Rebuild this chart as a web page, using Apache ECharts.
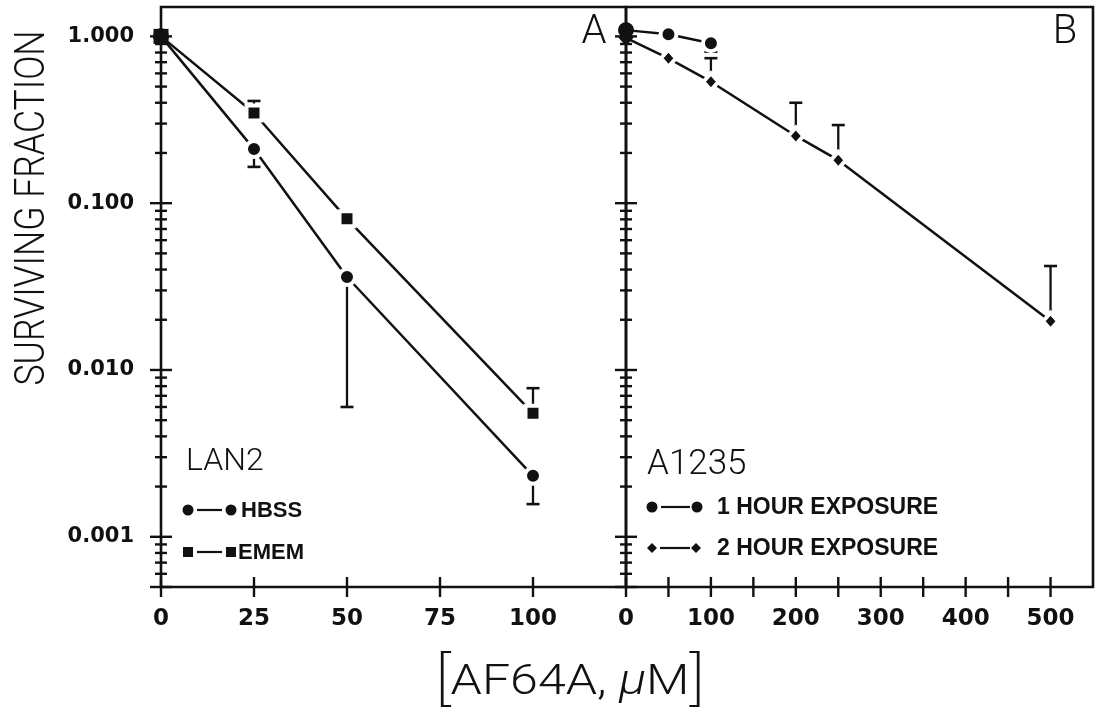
<!DOCTYPE html>
<html>
<head>
<meta charset="utf-8">
<script src="https://cdn.jsdelivr.net/npm/echarts@6/dist/echarts.min.js"></script>
<style>
html,body{margin:0;padding:0;background:#fff;}
#chart{width:1097px;height:711px;}
</style>
</head>
<body>
<div id="chart"></div>
<script>
// ---------- data ----------
const yMin = 0.0005, yMax = 1.5;
const yMajorTicks = [0.0005, 0.001, 0.01, 0.1, 1];
const yMinorTicks = [0.0006, 0.0007, 0.0008, 0.0009,
  0.002, 0.003, 0.004, 0.005, 0.006, 0.007, 0.008, 0.009,
  0.02, 0.03, 0.04, 0.05, 0.06, 0.07, 0.08, 0.09,
  0.2, 0.3, 0.4, 0.5, 0.6, 0.7, 0.8, 0.9];
const xTicksA = [0, 25, 50, 75, 100];
const xTicksB = [0, 50, 100, 150, 200, 250, 300, 350, 400, 450, 500];

// Panel A : LAN2
const doseA = [0, 25, 50, 100];
const hbss = [1.0, 0.211, 0.0361, 0.00232];
const hbssErr = [null, 0.165, 0.0060, 0.00157];
const emem = [1.0, 0.347, 0.0806, 0.0055];
const ememErr = [null, 0.41, null, 0.00778];

// Panel B : A1235
const doseB1 = [0, 50, 100];
const hour1 = [1.09, 1.03, 0.91];
const hour1Err = [null, null, 0.81];
const doseB2 = [0, 50, 100, 200, 250, 500];
const hour2 = [0.98, 0.739, 0.535, 0.253, 0.181, 0.0196];
const hour2Err = [null, null, 0.74, 0.40, 0.294, 0.042];

// ---------- helpers ----------
const INK = '#111';
function pts(xs, ys) {
  return xs.map((x, i) => ({
    value: [x, ys[i]],
    itemStyle: x === 0 ? { borderWidth: 0 } : undefined
  }));
}
function errs(xs, ys, es) {
  const out = [];
  xs.forEach((x, i) => { if (es[i] != null) out.push([x, ys[i], es[i]]); });
  return out;
}
function tickData(xTicks) {
  return [].concat(
    xTicks.map(x => [x, yMin, 0]),
    yMajorTicks.map(y => [0, y, 1]),
    yMinorTicks.map(y => [0, y, 2])
  );
}
function renderTick(params, api) {
  const kind = api.value(2);
  const p = api.coord([api.value(0), api.value(1)]);
  let shape;
  if (kind === 0) shape = { x1: p[0], y1: p[1] - 10, x2: p[0], y2: p[1] + 10 };
  else {
    const L = kind === 1 ? 11 : 6;
    shape = { x1: p[0] - L, y1: p[1], x2: p[0] + L, y2: p[1] };
  }
  return { type: 'line', shape: shape, style: { stroke: INK, lineWidth: 2.4 } };
}
function renderErr(params, api) {
  const p = api.coord([api.value(0), api.value(1)]);
  const e = api.coord([api.value(0), api.value(2)]);
  return {
    type: 'group',
    children: [
      { type: 'line', shape: { x1: p[0], y1: p[1], x2: e[0], y2: e[1] }, style: { stroke: INK, lineWidth: 2.3 } },
      { type: 'line', shape: { x1: e[0] - 6.5, y1: e[1], x2: e[0] + 6.5, y2: e[1] }, style: { stroke: INK, lineWidth: 2.6 } }
    ]
  };
}
function textWidth(text, font) {
  const c = document.createElement('canvas').getContext('2d');
  c.font = font;
  return c.measureText(text).width;
}

const tickFont = 'DejaVu Sans';
const lightFont = 'Roboto';

function lineSeries(name, xi, xs, ys, symbol, size) {
  return {
    name: name, type: 'line', xAxisIndex: xi, yAxisIndex: xi,
    data: pts(xs, ys), symbol: symbol, symbolSize: size, clip: false,
    lineStyle: { color: INK, width: 2.5 },
    itemStyle: { color: INK, borderColor: '#fff', borderWidth: 4 },
    z: 5, silent: true
  };
}

const yTitleFont = '300 43px Roboto';
const yTitleScale = 355 / textWidth('SURVIVING FRACTION', yTitleFont);

// x title parts
const xtA = '300 42px Roboto', xtM = 'italic 300 42px Roboto', xtB = '200 58px Roboto';
const xTitleW = textWidth('[', xtB) * 2 + textWidth('AF64A, ', xtA) + textWidth('μ', xtM) + textWidth('M', xtA);
const xTitleScale = 270 / xTitleW;

const option = {
  animation: false,
  backgroundColor: '#fff',
  grid: [
    { left: 161, top: 7, width: 465, height: 580, show: true, borderColor: INK, borderWidth: 2.6, backgroundColor: 'transparent' },
    { left: 626, top: 7, width: 467, height: 580, show: true, borderColor: INK, borderWidth: 2.6, backgroundColor: 'transparent' }
  ],
  xAxis: [
    { type: 'value', gridIndex: 0, min: 0, max: 125, interval: 25,
      axisLine: { show: false }, axisTick: { show: false }, splitLine: { show: false },
      axisLabel: { margin: 21, fontFamily: tickFont, fontWeight: 'bold', fontSize: 23, color: INK,
        formatter: v => (xTicksA.indexOf(v) >= 0 ? String(v) : '') } },
    { type: 'value', gridIndex: 1, min: 0, max: 550, interval: 100,
      axisLine: { show: false }, axisTick: { show: false }, splitLine: { show: false },
      axisLabel: { margin: 21, fontFamily: tickFont, fontWeight: 'bold', fontSize: 23, color: INK,
        formatter: v => (v % 100 === 0 && v <= 500 ? String(v) : '') } }
  ],
  yAxis: [
    { type: 'log', gridIndex: 0, min: yMin, max: yMax, logBase: 10,
      axisLine: { show: false }, axisTick: { show: false }, splitLine: { show: false },
      axisLabel: { margin: 27, fontFamily: tickFont, fontWeight: 'bold', fontSize: 21, color: INK,
        formatter: v => { const l = Math.log10(v); return Math.abs(l - Math.round(l)) < 1e-6 ? v.toFixed(3) : ''; } } },
    { type: 'log', gridIndex: 1, min: yMin, max: yMax, logBase: 10,
      axisLine: { show: false }, axisTick: { show: false }, splitLine: { show: false },
      axisLabel: { show: false } }
  ],
  series: [
    { type: 'custom', xAxisIndex: 0, yAxisIndex: 0, data: tickData(xTicksA), renderItem: renderTick, encode: { x: 0, y: 1 }, z: 2, silent: true, clip: false },
    { type: 'custom', xAxisIndex: 1, yAxisIndex: 1, data: tickData(xTicksB), renderItem: renderTick, encode: { x: 0, y: 1 }, z: 2, silent: true, clip: false },
    { type: 'custom', xAxisIndex: 0, yAxisIndex: 0, data: errs(doseA, hbss, hbssErr).concat(errs(doseA, emem, ememErr)), renderItem: renderErr, encode: { x: 0, y: 1 }, z: 3, silent: true, clip: false },
    { type: 'custom', xAxisIndex: 1, yAxisIndex: 1, data: errs(doseB1, hour1, hour1Err).concat(errs(doseB2, hour2, hour2Err)), renderItem: renderErr, encode: { x: 0, y: 1 }, z: 3, silent: true, clip: false },
    lineSeries('HBSS', 0, doseA, hbss, 'circle', 16),
    lineSeries('EMEM', 0, doseA, emem, 'rect', 15),
    lineSeries('1 HOUR EXPOSURE', 1, doseB1, hour1, 'circle', 16),
    lineSeries('2 HOUR EXPOSURE', 1, doseB2, hour2, 'diamond', [15, 17])
  ],
  graphic: [
    { type: 'text', x: 33, y: 208, rotation: Math.PI / 2, scaleX: yTitleScale,
      style: { text: 'SURVIVING FRACTION', font: yTitleFont, fill: INK, align: 'center', verticalAlign: 'middle', textAlign: 'center', textVerticalAlign: 'middle' } },
    { type: 'text', x: 570, y: 683, scaleX: xTitleScale,
      style: { text: '{b|[}{a|AF64A, }{m|μ}{a|M}{b|]}', fill: INK, align: 'center', verticalAlign: 'middle', textAlign: 'center', textVerticalAlign: 'middle',
        rich: {
          a: { fontFamily: lightFont, fontWeight: 300, fontSize: 42, fill: INK, color: INK },
          m: { fontFamily: lightFont, fontWeight: 300, fontStyle: 'italic', fontSize: 42, fill: INK, color: INK },
          b: { fontFamily: lightFont, fontWeight: 200, fontSize: 58, fill: INK, color: INK }
        } } },
    { type: 'text', x: 594, y: 33, style: { text: 'A', font: '300 40px Roboto', fill: INK, align: 'center', verticalAlign: 'middle', textAlign: 'center', textVerticalAlign: 'middle' } },
    { type: 'text', x: 1065, y: 33, style: { text: 'B', font: '300 40px Roboto', fill: INK, align: 'center', verticalAlign: 'middle', textAlign: 'center', textVerticalAlign: 'middle' } },

    // legend panel A
    { type: 'text', x: 186, y: 462, style: { text: 'LAN2', font: '300 32px Roboto', fill: INK, align: 'left', verticalAlign: 'middle', textAlign: 'left', textVerticalAlign: 'middle' } },
    { type: 'circle', shape: { cx: 188, cy: 510, r: 5.5 }, style: { fill: INK } },
    { type: 'line', shape: { x1: 197, y1: 510, x2: 222, y2: 510 }, style: { stroke: INK, lineWidth: 2.2 } },
    { type: 'circle', shape: { cx: 231, cy: 510, r: 5.5 }, style: { fill: INK } },
    { type: 'text', x: 241, y: 511, style: { text: 'HBSS', font: 'bold 22px "Liberation Sans"', fill: INK, align: 'left', verticalAlign: 'middle', textAlign: 'left', textVerticalAlign: 'middle' } },
    { type: 'rect', shape: { x: 183, y: 547, width: 10, height: 10 }, style: { fill: INK } },
    { type: 'line', shape: { x1: 197, y1: 552, x2: 222, y2: 552 }, style: { stroke: INK, lineWidth: 2.2 } },
    { type: 'rect', shape: { x: 226, y: 547, width: 10, height: 10 }, style: { fill: INK } },
    { type: 'text', x: 238, y: 553, style: { text: 'EMEM', font: 'bold 22px "Liberation Sans"', fill: INK, align: 'left', verticalAlign: 'middle', textAlign: 'left', textVerticalAlign: 'middle' } },

    // legend panel B
    { type: 'text', x: 647, y: 465, style: { text: 'A1235', font: '300 35px Roboto', fill: INK, align: 'left', verticalAlign: 'middle', textAlign: 'left', textVerticalAlign: 'middle' } },
    { type: 'circle', shape: { cx: 652, cy: 507, r: 5.5 }, style: { fill: INK } },
    { type: 'line', shape: { x1: 661, y1: 507, x2: 690, y2: 507 }, style: { stroke: INK, lineWidth: 2.2 } },
    { type: 'circle', shape: { cx: 697, cy: 507, r: 5.5 }, style: { fill: INK } },
    { type: 'text', x: 717, y: 508, style: { text: '1 HOUR EXPOSURE', font: 'bold 23px "Liberation Sans"', fill: INK, align: 'left', verticalAlign: 'middle', textAlign: 'left', textVerticalAlign: 'middle' } },
    { type: 'polygon', shape: { points: [[652, 543], [657, 548], [652, 553], [647, 548]] }, style: { fill: INK } },
    { type: 'line', shape: { x1: 660, y1: 548, x2: 690, y2: 548 }, style: { stroke: INK, lineWidth: 2.2 } },
    { type: 'polygon', shape: { points: [[696, 543], [701, 548], [696, 553], [691, 548]] }, style: { fill: INK } },
    { type: 'text', x: 717, y: 549, style: { text: '2 HOUR EXPOSURE', font: 'bold 23px "Liberation Sans"', fill: INK, align: 'left', verticalAlign: 'middle', textAlign: 'left', textVerticalAlign: 'middle' } }
  ]
};

const chart = echarts.init(document.getElementById('chart'), null, { renderer: 'canvas' });
chart.setOption(option);
</script>
</body>
</html>
